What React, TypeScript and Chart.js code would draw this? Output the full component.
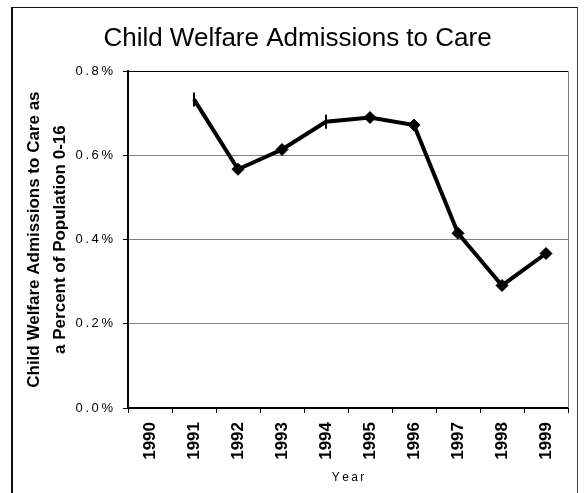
import React, { useEffect, useRef } from "react";
import { Chart, registerables } from "chart.js";

Chart.register(...registerables);

// Admissions to care per year, as a percent of the population aged 0-16
const years = ["1990", "1991", "1992", "1993", "1994", "1995", "1996", "1997", "1998", "1999"];
const admissionRates: (number | null)[] = [null, 0.733, 0.567, 0.614, 0.68, 0.69, 0.672, 0.415, 0.291, 0.367];
const yTicks = [0, 0.2, 0.4, 0.6, 0.8];
const tickBarYears = ["1991", "1994"];

const chartTitle = "Child Welfare Admissions to Care";
const yTitle = ["Child Welfare Admissions to Care as", "a Percent of Population 0-16"];
const xTitle = "Year";

// widen small labels the way the spreadsheet renderer spaces them
const spaced = (s: string) => s.split("").join("\u2009");

const W = 584;
const H = 493;
const SANS = "'Liberation Sans', Arial, sans-serif";

// right-hand edge of the plot area
const plotFrame = {
  id: "plotFrame",
  beforeDatasetsDraw(chart: any) {
    const { ctx, chartArea } = chart;
    ctx.save();
    ctx.strokeStyle = "#808080";
    ctx.lineWidth = 1;
    ctx.beginPath();
    ctx.moveTo(chartArea.right + 0.5, chartArea.top);
    ctx.lineTo(chartArea.right + 0.5, chartArea.bottom);
    ctx.stroke();
    ctx.restore();
  },
};

export default function App() {
  const canvasRef = useRef<HTMLCanvasElement | null>(null);

  useEffect(() => {
    const canvas = canvasRef.current;
    if (!canvas) return;
    const isBar = (ctx: any) => tickBarYears.includes(years[ctx.dataIndex]);
    const chart = new Chart(canvas, {
      type: "line",
      data: {
        labels: years,
        datasets: [
          {
            data: admissionRates,
            borderColor: "#000",
            backgroundColor: "#000",
            borderWidth: 4,
            tension: 0,
            pointStyle: (ctx: any) => (isBar(ctx) ? "line" : "rectRot"),
            pointRotation: (ctx: any) => (isBar(ctx) ? 90 : 0),
            pointRadius: (ctx: any) => (isBar(ctx) ? 7 : 6),
            pointBorderWidth: (ctx: any) => (isBar(ctx) ? 2 : 1),
            pointBorderColor: "#000",
            pointBackgroundColor: "#000",
          },
        ],
      },
      options: {
        animation: false,
        responsive: true,
        maintainAspectRatio: false,
        layout: { padding: { left: 27, right: 16, top: 8, bottom: 0 } },
        plugins: {
          legend: { display: false },
          tooltip: { enabled: false },
          title: {
            display: true,
            text: chartTitle,
            color: "#000",
            font: { family: SANS, size: 26, weight: "normal", lineHeight: 1.2 },
            padding: { top: 15, bottom: 17 },
          },
        },
        scales: {
          x: {
            type: "category",
            offset: true,
            afterFit: (scale: any) => {
              scale.height = 85;
            },
            grid: {
              offset: true,
              drawOnChartArea: false,
              tickLength: 5,
              tickColor: "#000",
              tickWidth: 1,
            },
            border: { color: "#000", width: 2 },
            ticks: {
              autoSkip: false,
              minRotation: 90,
              maxRotation: 90,
              padding: 9,
              color: "#000",
              font: { family: SANS, size: 17, weight: "bold" },
            },
            title: {
              display: true,
              text: spaced(xTitle),
              color: "#000",
              font: { family: SANS, size: 12 },
              padding: { top: 0, bottom: 8 },
            },
          },
          y: {
            min: yTicks[0],
            max: yTicks[yTicks.length - 1],
            afterFit: (scale: any) => {
              scale.width = 101;
            },
            afterBuildTicks: (scale: any) => {
              scale.ticks = yTicks.map((v) => ({ value: v }));
            },
            grid: {
              color: (ctx: any) => (ctx.tick && ctx.tick.value === yTicks[yTicks.length - 1] ? "#000" : "#808080"),
              lineWidth: 1,
              tickLength: 5,
              tickColor: "#000",
            },
            border: { color: "#000", width: 2 },
            ticks: {
              padding: 10,
              color: "#000",
              font: { family: SANS, size: 13 },
              callback: (v: any) => spaced(`${Number(v).toFixed(1)}%`),
            },
            title: {
              display: true,
              text: yTitle,
              color: "#000",
              font: { family: SANS, size: 17, weight: "bold", lineHeight: 1.53 },
              padding: { top: -6, bottom: 0 },
            },
          },
        },
      },
      plugins: [plotFrame],
    });
    return () => chart.destroy();
  }, []);

  return (
    <div style={{ position: "fixed", left: 0, top: 0, width: W, height: H, background: "#fff", overflow: "hidden" }}>
      <div
        style={{
          position: "absolute",
          left: 11,
          top: 7,
          width: 564,
          height: 500,
          borderLeft: "2px solid #111",
          borderTop: "1px solid #111",
          borderRight: "1px solid #444",
          pointerEvents: "none",
        }}
      />
      <canvas ref={canvasRef} style={{ position: "absolute", left: 0, top: 0, width: W, height: H }} />
    </div>
  );
}
